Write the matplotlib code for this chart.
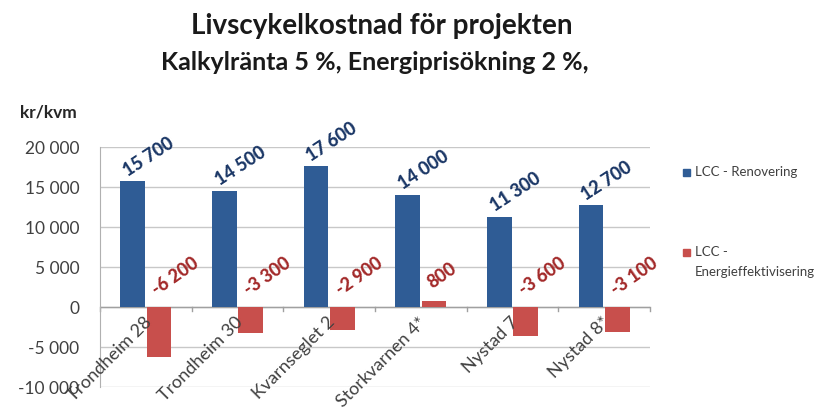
import matplotlib
matplotlib.use("Agg")
import matplotlib.pyplot as plt
import numpy as np

categories = ["Trondheim 28", "Trondheim 30", "Kvarnseglet 2", "Storkvarnen 4*", "Nystad 7", "Nystad 8*"]
renovering = [15700, 14500, 17600, 14000, 11300, 12700]
energi = [-6200, -3300, -2900, 800, -3600, -3100]
yticks = [-10000, -5000, 0, 5000, 10000, 15000, 20000]
series_names = ["LCC - Renovering", "LCC -\nEnergieffektivisering"]

plt.rcParams['font.family'] = ['Lato', 'DejaVu Sans']

def fmt(v):
    s = f"{abs(v):,}".replace(",", " ")
    return ("-" if v < 0 else "") + s

BLUE = "#2F5C95"
RED = "#C84F4C"
BLUE_T = "#1B3766"
RED_T = "#A32A2A"

fig = plt.figure(figsize=(8.23, 4.19), dpi=100)
ax = fig.add_axes([100/823, 32/419, 550/823, 240/419])

x = np.arange(len(categories))
w = 0.27
off = 0.145
ax.bar(x - off, renovering, w, color=BLUE, zorder=3)
ax.bar(x + off, energi, w, color=RED, zorder=3)

ax.set_xlim(-0.5, len(categories) - 0.5)
ax.set_ylim(-10000, 20000)
ax.set_yticks(yticks)
ax.set_yticklabels([fmt(v) for v in yticks], fontsize=12.5, color="#404040")
ax.set_xticks([])
ax.yaxis.grid(True, color="#C8C8C8", lw=1, zorder=0)
ax.tick_params(axis='y', length=0, pad=15)
for s in ["top", "right", "bottom"]:
    ax.spines[s].set_visible(False)
ax.spines["left"].set_color("#B0B0B0")
ax.axhline(0, color="#A0A0A0", lw=1, zorder=2)
for b in np.arange(-0.5, len(categories), 1.0):
    ax.plot([b, b], [0, -450], color="#A0A0A0", lw=1, zorder=2, clip_on=False)

for i, v in enumerate(renovering):
    ax.text(i - off - 0.03, v + 250, fmt(v), rotation=33, rotation_mode='anchor',
            ha='left', va='bottom', fontsize=13, fontweight='black', color=BLUE_T, zorder=4)
for i, v in enumerate(energi):
    ax.text(i + off - 0.0, max(v, 0) + 1100, fmt(v), rotation=35, rotation_mode='anchor',
            ha='left', va='bottom', fontsize=13, fontweight='black', color=RED_T, zorder=4)
for i, c in enumerate(categories):
    ax.text(i - 0.03, -900, c, rotation=45, rotation_mode='anchor', ha='right', va='top',
            fontsize=13, color="#404040", zorder=4)

fig.text(20/823, 1 - 112/419, "kr/kvm", fontsize=12.5, fontweight='bold', color="#262626", va='center')
fig.text(382/823, 1 - 26/419, "Livscykelkostnad för projekten", fontsize=20, fontweight='bold',
         ha='center', va='center', color="#1a1a1a")
fig.text(375/823, 1 - 62/419, "Kalkylränta 5 %, Energiprisökning 2 %,", fontsize=18, fontweight='bold',
         ha='center', va='center', color="#1a1a1a")

# legend
fig.patches.append(plt.Rectangle((683/823, 1 - 176/419), 7/823, 7/419, transform=fig.transFigure,
                                 color=BLUE, figure=fig))
fig.text(695/823, 1 - 172/419, series_names[0], fontsize=9.5, color="#404040", va='center')
fig.patches.append(plt.Rectangle((683/823, 1 - 256/419), 7/823, 7/419, transform=fig.transFigure,
                                 color=RED, figure=fig))
fig.text(695/823, 1 - 252/419, series_names[1].split("\n")[0], fontsize=9.5, color="#404040", va='center')
fig.text(695/823, 1 - 272/419, series_names[1].split("\n")[1], fontsize=9.5, color="#404040", va='center')

fig.savefig("out.png", dpi=100)
